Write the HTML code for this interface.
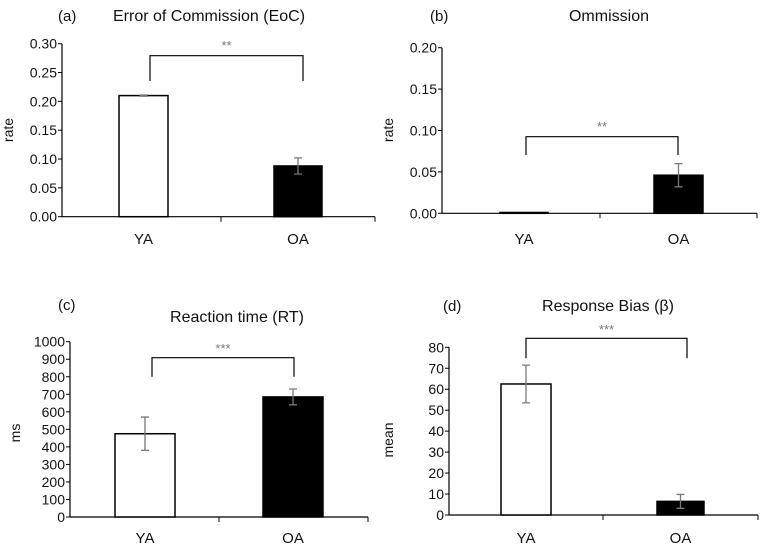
<!DOCTYPE html>
<html><head><meta charset="utf-8"><style>
body{margin:0;background:#fff}
svg{display:block;font-family:"Liberation Sans",sans-serif}
</style></head><body>
<svg id="c" width="765" height="545" viewBox="0 0 765 545"></svg>
<script>
const categories=["YA","OA"];
const valuesA=[0.21,0.088], errA=[0.001,0.014], ticksA=["0.00","0.05","0.10","0.15","0.20","0.25","0.30"];
const valuesB=[0.001,0.046], errB=[0,0.014], ticksB=["0.00","0.05","0.10","0.15","0.20"];
const valuesC=[475,685], errC=[95,45], ticksC=["0","100","200","300","400","500","600","700","800","900","1000"];
const valuesD=[62.5,6.5], errD=[9,3.3], ticksD=["0","10","20","30","40","50","60","70","80"];
const svg=document.getElementById('c');const NS="http://www.w3.org/2000/svg";
function el(t,a,p){const e=document.createElementNS(NS,t);for(const k in a)e.setAttribute(k,a[k]);(p||svg).appendChild(e);return e;}
function txt(s,a,p){const e=el('text',a,p);e.textContent=s;return e;}
const panels=[
{id:'a',vals:valuesA,err:errA,ticks:ticksA,x0:62,x1:375,y0:216.7,yT:43.7,bars:[[119,168],[274,322]],mid:221,br:[55.7,81,150,303],stars:'**',sy:50,lab:'(a)',lx:58,ly:21,title:'Error of Commission (EoC)',tx:209,ty:21,yl:'rate',ylx:13,yly:130,cy:244},
{id:'b',vals:valuesB,err:errB,ticks:ticksB,x0:442,x1:757,y0:213.3,yT:47.7,bars:[[500,548],[654,703]],mid:600,br:[136.7,155,526,678],stars:'**',sy:131,lab:'(b)',lx:430,ly:21,title:'Ommission',tx:609,ty:21,yl:'rate',ylx:393,yly:130,cy:244},
{id:'c',vals:valuesC,err:errC,ticks:ticksC,x0:70,x1:368,y0:517,yT:341.7,bars:[[115,175],[263,323]],mid:219,br:[357.7,376.7,152,294],stars:'***',sy:353,lab:'(c)',lx:58,ly:310,title:'Reaction time (RT)',tx:237,ty:322,yl:'ms',ylx:20,yly:433,cy:543},
{id:'d',vals:valuesD,err:errD,ticks:ticksD,x0:449,x1:758,y0:515,yT:347.3,bars:[[501,551],[657,704]],mid:603,br:[338.3,358.3,526,687],stars:'***',sy:334,lab:'(d)',lx:443,ly:311,title:'Response Bias (β)',tx:608,ty:311,yl:'mean',ylx:393,yly:440,cy:543}];
panels.forEach(P=>{
 const g=el('g',{});
 
 
 const max=parseFloat(P.ticks[P.ticks.length-1]);
 const y=v=>P.y0-(v/max)*(P.y0-P.yT);
 const ax=el('line',{x1:P.x0,y1:P.yT,x2:P.x0,y2:P.y0,stroke:'#000','stroke-width':1.2},g);
 
 P.ticks.forEach(t=>{const v=parseFloat(t);
  el('line',{x1:P.x0-4,y1:y(v),x2:P.x0,y2:y(v),stroke:'#000'},g);
  const tl=txt(t,{x:P.x0-5,y:y(v)+5,'font-size':14,'text-anchor':'end',fill:'#111'},g);
  });
 const xa=el('line',{x1:P.x0,y1:P.y0,x2:P.x1,y2:P.y0,stroke:'#000','stroke-width':1.2},g);
 
 [P.mid,P.x1].forEach(x=>el('line',{x1:x,y1:P.y0,x2:x,y2:P.y0+5,stroke:'#000'},g));
 categories.forEach((c,i)=>{
  const [a,b]=P.bars[i];const v=P.vals[i];
  const r=el('rect',{x:a,y:y(v),width:b-a,height:P.y0-y(v),fill:i?'#000':'#fff',stroke:'#000','stroke-width':1.5},g);
  
  const cx=(a+b)/2,e=P.err[i];
  if(e>0){const eb=el('path',{d:`M${cx},${y(v+e)}V${y(v-e)}M${cx-4},${y(v+e)}H${cx+4}M${cx-4},${y(v-e)}H${cx+4}`,stroke:'#777','stroke-width':1.3,fill:'none'},g);
   }
  const cl=txt(c,{x:cx,y:P.cy,'font-size':15,'text-anchor':'middle',fill:'#111'},g);
  
 });
 const [bt,bb,bx1,bx2]=P.br;
 const br=el('path',{d:`M${bx1},${bb}V${bt}H${bx2}V${bb}`,stroke:'#000','stroke-width':1.2,fill:'none'},g);
 
 const st=txt(P.stars,{x:(bx1+bx2)/2,y:P.sy,'font-size':13,'text-anchor':'middle',fill:'#777'},g);
 
 const lb=txt(P.lab,{x:P.lx,y:P.ly,'font-size':15,fill:'#111'},g);
 
 const tt=txt(P.title,{x:P.tx,y:P.ty,'font-size':16,'text-anchor':'middle',fill:'#111'},g);
 
 const yl=txt(P.yl,{x:P.ylx,y:P.yly,'font-size':14,'text-anchor':'middle',fill:'#111',transform:`rotate(-90 ${P.ylx} ${P.yly})`},g);
 
});
</script>
</body></html>
